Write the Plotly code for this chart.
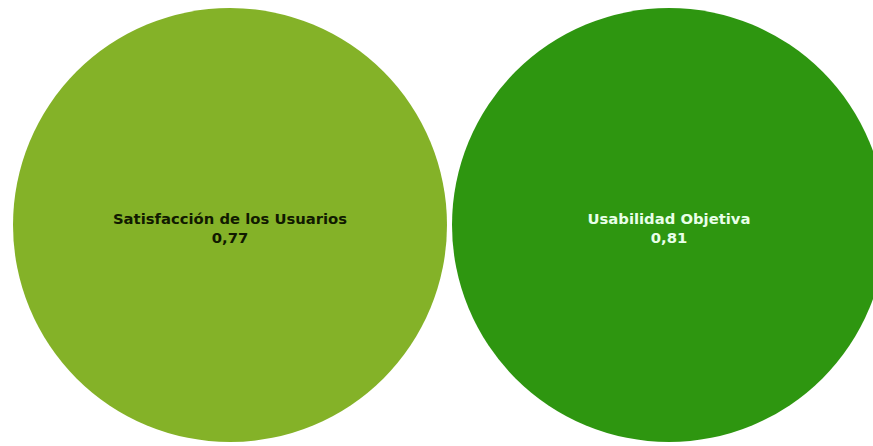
import plotly.graph_objects as go

labels = ["Satisfacción de los Usuarios", "Usabilidad Objetiva"]
values = [0.77, 0.81]
value_text = ["0,77", "0,81"]
positions = [0, 1]

colors = ["#84B228", "#2E9610"]
text_colors = ["#111a00", "#e8ffe8"]

BUBBLE_DIAM = 434
TEXT_OFFSET = -5

fig = go.Figure()
fig.add_trace(go.Scatter(
    x=positions,
    y=[0] * len(values),
    mode="markers",
    customdata=values,
    marker=dict(size=BUBBLE_DIAM, sizemode="diameter",
                color=colors, line=dict(width=0), opacity=1),
    cliponaxis=False,
    hoverinfo="skip",
))
fig.add_trace(go.Scatter(
    x=positions,
    y=[TEXT_OFFSET] * len(values),
    mode="text",
    text=[f"<b>{l}</b><br><b>{v}</b>" for l, v in zip(labels, value_text)],
    textposition="middle center",
    textfont=dict(family="DejaVu Sans", size=14.8, color=text_colors),
    cliponaxis=False,
    hoverinfo="skip",
))

fig.update_layout(
    width=873, height=446,
    margin=dict(l=0, r=0, t=0, b=0),
    paper_bgcolor="white", plot_bgcolor="white",
    showlegend=False,
    xaxis=dict(range=[-230 / 439, 1 + 204 / 439], visible=False, fixedrange=True),
    yaxis=dict(range=[-221, 225], visible=False, fixedrange=True),
)

fig.write_html("out.html",
               config={"displayModeBar": False, "staticPlot": True},
               post_script="document.body.style.margin='0';document.body.style.overflow='hidden';")
